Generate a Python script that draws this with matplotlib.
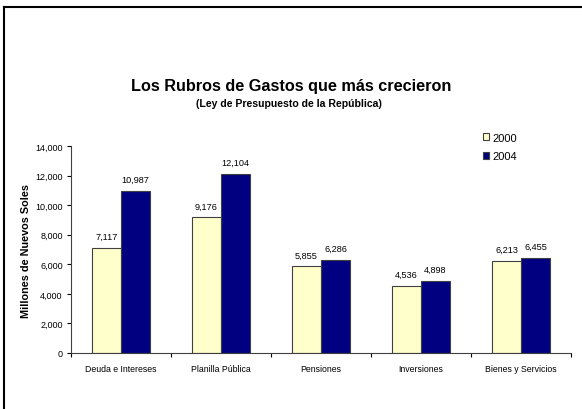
import matplotlib
matplotlib.use("Agg")
import matplotlib.pyplot as plt
import numpy as np
from matplotlib.lines import Line2D
from matplotlib.patches import Rectangle

categories = ["Deuda e Intereses", "Planilla Pública", "Pensiones", "Inversiones", "Bienes y Servicios"]
series_names = ["2000", "2004"]
values_2000 = [7117, 9176, 5855, 4536, 6213]
values_2004 = [10987, 12104, 6286, 4898, 6455]
yticks = [0, 2000, 4000, 6000, 8000, 10000, 12000, 14000]

plt.rcParams['font.family'] = ['Liberation Sans', 'DejaVu Sans']

fig = plt.figure(figsize=(5.82, 4.10), dpi=100)
ax = fig.add_axes([71/582, 1-354/410, 500/582, (354-147)/410])

x = np.arange(len(categories))
w = 0.29
colors = ["#FFFFCC", "#000080"]
b1 = ax.bar(x - w/2, values_2000, w, color=colors[0], edgecolor="#404040", linewidth=0.8, label=series_names[0])
b2 = ax.bar(x + w/2, values_2004, w, color=colors[1], edgecolor="#404040", linewidth=0.8, label=series_names[1])

for bars, vals in ((b1, values_2000), (b2, values_2004)):
    for r, v in zip(bars, vals):
        ax.annotate(f"{v:,}", (r.get_x() + r.get_width()/2, v), xytext=(0, 5),
                    textcoords="offset points", ha="center", va="bottom", fontsize=6.6)

ax.set_xlim(-0.5, len(categories) - 0.5)
ax.set_ylim(0, 14000)
ax.set_yticks(yticks)
ax.set_yticklabels([f"{t:,}" for t in yticks], fontsize=6.5)
ax.set_xticks(x)
ax.set_xticklabels(categories, fontsize=6.3)
ax.tick_params(axis='x', which='major', length=0, pad=8)
ax.set_xticks(np.arange(-0.5, len(categories)), minor=True)
ax.tick_params(axis='x', which='minor', length=3, direction='out', width=0.8)
ax.tick_params(axis='y', length=3, width=0.8, pad=3)
for s in ("top", "right"):
    ax.spines[s].set_visible(False)
for s in ("left", "bottom"):
    ax.spines[s].set_linewidth(0.8)
    ax.spines[s].set_color("#404040")

ax.set_ylabel("Millones de Nuevos Soles", fontsize=7.8, fontweight="bold")
ax.yaxis.set_label_coords(-(71-31)/500, (354-251)/207)

fig.text(291/582, 1-87/410, "Los Rubros de Gastos que más crecieron", ha="center", va="center",
         fontsize=11.7, fontweight="bold")
fig.text(289/582, 1-104/410, "(Ley de Presupuesto de la República)", ha="center", va="center",
         fontsize=7.6, fontweight="bold")

handles = [Rectangle((0, 0), 1, 1, facecolor=colors[0], edgecolor="#404040", linewidth=0.8),
           Rectangle((0, 0), 1, 1, facecolor=colors[1], edgecolor="#404040", linewidth=0.8)]
fig.legend(handles, series_names, loc="upper left", bbox_to_anchor=(477/582, 1-128/410),
           frameon=False, fontsize=8, handlelength=0.55, handleheight=0.55, handletextpad=0.3,
           labelspacing=0.8, borderpad=0)

# frame (only left and top visible in reference)
fig.add_artist(Line2D([4/582, 4/582], [0, 1-8/410], transform=fig.transFigure, color="black", linewidth=1.5))
fig.add_artist(Line2D([4/582, 1], [1-8/410, 1-8/410], transform=fig.transFigure, color="black", linewidth=1.5))

fig.savefig("out.png", dpi=100)
